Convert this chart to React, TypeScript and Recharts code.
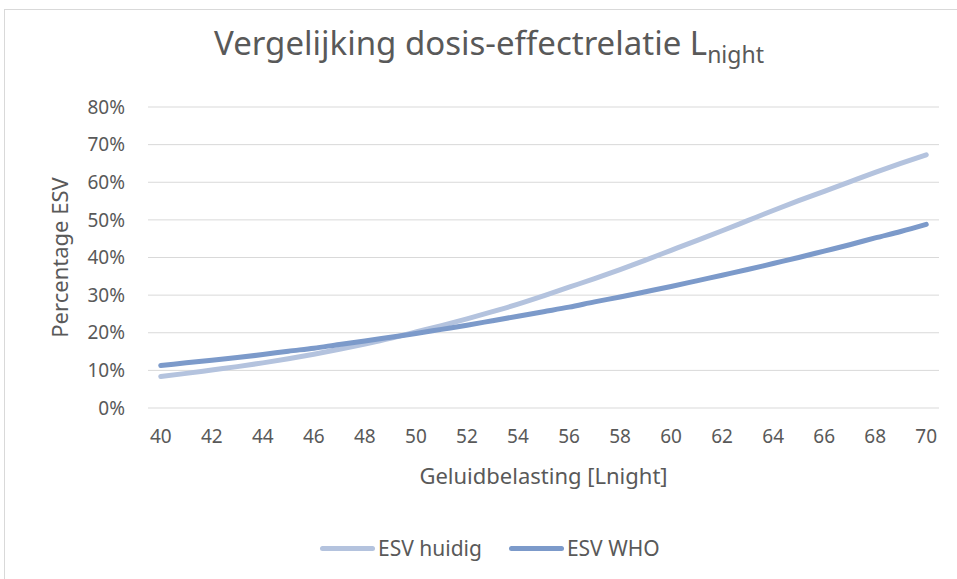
import React from 'react';
import { LineChart, Line, XAxis, YAxis, CartesianGrid, Label } from 'recharts';

// Lnight categories (every integer dB), labels on even values only
const lnight = [40, 41, 42, 43, 44, 45, 46, 47, 48, 49, 50, 51, 52, 53, 54, 55, 56, 57, 58, 59, 60, 61, 62, 63, 64, 65, 66, 67, 68, 69, 70];
const xTicks = [40, 42, 44, 46, 48, 50, 52, 54, 56, 58, 60, 62, 64, 66, 68, 70];
const yTicks = [0, 10, 20, 30, 40, 50, 60, 70, 80];

// percentage ESV
const esvHuidig = [8.4, 9.2, 10.1, 11.0, 12.0, 13.1, 14.3, 15.6, 17.0, 18.5, 20.2, 21.9, 23.7, 25.6, 27.6, 29.8, 32.1, 34.4, 36.8, 39.3, 41.9, 44.5, 47.1, 49.8, 52.5, 55.1, 57.6, 60.1, 62.6, 65.0, 67.3];
const esvWho = [11.3, 12.0, 12.7, 13.4, 14.2, 15.1, 15.9, 16.9, 17.8, 18.8, 19.8, 20.9, 22.0, 23.2, 24.4, 25.6, 26.8, 28.2, 29.5, 30.9, 32.3, 33.8, 35.3, 36.8, 38.4, 40.0, 41.7, 43.4, 45.2, 46.9, 48.8];

const data = lnight.map((l, i) => ({ l, huidig: esvHuidig[i], who: esvWho[i] }));

const FONT = '"Noto Sans", sans-serif';
const TEXT = '#595959';
const C_HUIDIG = '#B4C3DE';
const C_WHO = '#7C9ACA';

const series = [
    { key: 'huidig', name: 'ESV huidig', color: C_HUIDIG },
    { key: 'who', name: 'ESV WHO', color: C_WHO },
];

export default function App() {
    return (
        <div style={{ position: 'absolute', left: 0, top: 0, width: 957, height: 579, overflow: 'hidden', background: '#fff' }}>
            <div style={{ position: 'absolute', left: 4, top: 9, width: 1100, height: 1100, border: '1px solid #d9d9d9' }} />
            <div style={{ position: 'absolute', left: 0, top: 20, width: 978, textAlign: 'center', fontFamily: FONT, fontSize: 33, color: TEXT, whiteSpace: 'nowrap' }}>
                Vergelijking dosis-effectrelatie L<sub style={{ fontSize: 23 }}>night</sub>
            </div>
            <div style={{ position: 'absolute', left: 0, top: 0 }}>
                <LineChart width={957} height={579} data={data} margin={{ top: 107, right: 18, left: 0, bottom: 91 }}>
                    <CartesianGrid vertical={false} stroke="#d9d9d9" strokeWidth={1} />
                    <XAxis
                        dataKey="l"
                        type="number"
                        domain={[39.5, 70.5]}
                        ticks={xTicks}
                        axisLine={false}
                        tickLine={false}
                        tickSize={0}
                        tickMargin={22}
                        height={80}
                        tick={{ fill: TEXT, fontFamily: FONT, fontSize: 19 }}
                    >
                        <Label value="Geluidbelasting [Lnight]" position="insideBottom" offset={4} fill={TEXT} fontFamily={FONT} fontSize={22} />
                    </XAxis>
                    <YAxis
                        type="number"
                        domain={[0, 80]}
                        ticks={yTicks}
                        width={148}
                        axisLine={false}
                        tickLine={false}
                        tickSize={0}
                        tickMargin={23}
                        tickFormatter={(v: number) => `${v}%`}
                        tick={{ fill: TEXT, fontFamily: FONT, fontSize: 19 }}
                    >
                        <Label value="Percentage ESV" angle={-90} position="insideLeft" offset={60} fill={TEXT} fontFamily={FONT} fontSize={22} style={{ textAnchor: 'middle' }} />
                    </YAxis>
                    {series.map(s => (
                        <Line
                            key={s.key}
                            type="monotone"
                            dataKey={s.key}
                            name={s.name}
                            stroke={s.color}
                            strokeWidth={5}
                            strokeLinecap="round"
                            dot={false}
                            activeDot={false}
                            isAnimationActive={false}
                        />
                    ))}
                </LineChart>
            </div>
            <div style={{ position: 'absolute', left: 320, top: 534, display: 'flex', alignItems: 'center', fontFamily: FONT, fontSize: 21, color: TEXT, whiteSpace: 'nowrap' }}>
                {series.map(s => (
                    <div key={s.key} style={{ display: 'flex', alignItems: 'center', marginRight: 27 }}>
                        <span style={{ display: 'inline-block', width: 55, height: 5, borderRadius: 3, background: s.color, marginRight: 3 }} />
                        <span>{s.name}</span>
                    </div>
                ))}
            </div>
        </div>
    );
}
